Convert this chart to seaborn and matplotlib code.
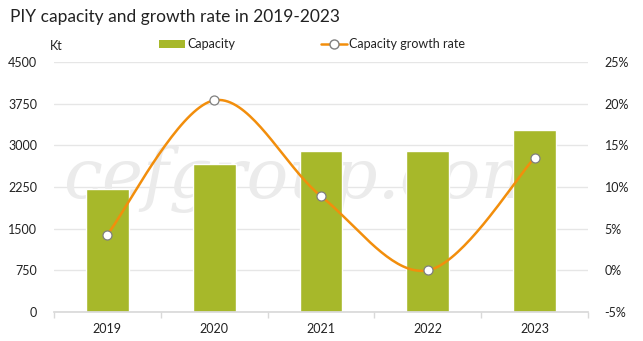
import numpy as np
import pandas as pd
import matplotlib
matplotlib.use("Agg")
import matplotlib.pyplot as plt
import seaborn as sns

years = ["2019", "2020", "2021", "2022", "2023"]
capacity = [2210, 2660, 2900, 2900, 3280]
growth = [4.3, 20.4, 8.9, 0.0, 13.5]
left_ticks = [0, 750, 1500, 2250, 3000, 3750, 4500]
right_ticks = [-5, 0, 5, 10, 15, 20, 25]

sns.set_theme(style="white")
plt.rcParams['font.family'] = ['Lato', 'DejaVu Sans']

BAR = "#A7B82A"
LINE = "#F28E0C"
TXT = "#222222"

fig = plt.figure(figsize=(6.43, 3.41), dpi=100)
ax = fig.add_axes([54/643, 29/341, 534/643, 250/341])

df = pd.DataFrame({"year": years, "capacity": capacity, "growth": growth})
sns.barplot(data=df, x="year", y="capacity", color=BAR, width=0.4, ax=ax,
            saturation=1, zorder=2)
ax.set_ylim(0, 4500)
ax.set_xlim(-0.5, 4.5)
ax.set_yticks(left_ticks)
ax.set_yticklabels([str(t) for t in left_ticks])
ax.yaxis.grid(True, color="#e6e6e6", lw=1, zorder=0)
ax.set_axisbelow(True)
for s in ["top", "left", "right"]:
    ax.spines[s].set_visible(False)
ax.spines["bottom"].set_color("#d9d9d9")
ax.set_xlabel("")
ax.set_ylabel("")
ax.set_xticks(np.arange(-0.5, 5.0, 1.0), minor=True)
ax.tick_params(axis="x", which="minor", length=4, color="#d9d9d9", direction="out", bottom=True)
ax.tick_params(axis="x", which="major", length=0, labelsize=9, labelcolor=TXT, pad=8)
ax.tick_params(axis="y", length=0, labelsize=9, labelcolor=TXT, pad=12)

# watermark
ax.text(1.85, 2400, "cefgroup.com", fontsize=50, family="DejaVu Serif", style="italic",
        color="#ebebeb", ha="center", va="center", zorder=1, clip_on=True)

ax2 = ax.twinx()
ax2.set_ylim(-5, 25)
ax2.set_yticks(right_ticks)
ax2.set_yticklabels([f"{t}%" for t in right_ticks])
ax2.tick_params(axis="y", length=0, labelsize=9, labelcolor=TXT, pad=12)
for s in ["top", "left", "right", "bottom"]:
    ax2.spines[s].set_visible(False)
ax2.grid(False)

# smooth (Catmull-Rom style) curve through the data points
xs = np.arange(len(growth), dtype=float)
ys = np.array(growth, dtype=float)
px, py = [], []
n = len(xs)
for i in range(n - 1):
    p0 = (xs[i-1], ys[i-1]) if i > 0 else (xs[i], ys[i])
    p1 = (xs[i], ys[i]); p2 = (xs[i+1], ys[i+1])
    p3 = (xs[i+2], ys[i+2]) if i + 2 < n else (xs[i+1], ys[i+1])
    t = np.linspace(0, 1, 40)
    c1 = (p1[0] + (p2[0]-p0[0])/6, p1[1] + (p2[1]-p0[1])/6)
    c2 = (p2[0] - (p3[0]-p1[0])/6, p2[1] - (p3[1]-p1[1])/6)
    bx = (1-t)**3*p1[0] + 3*(1-t)**2*t*c1[0] + 3*(1-t)*t**2*c2[0] + t**3*p2[0]
    by = (1-t)**3*p1[1] + 3*(1-t)**2*t*c1[1] + 3*(1-t)*t**2*c2[1] + t**3*p2[1]
    px.extend(bx); py.extend(by)
ax2.plot(px, py, color=LINE, lw=1.8, zorder=3)
sns.scatterplot(x=xs, y=ys, ax=ax2, color="white", edgecolor="#7f7f7f", s=42,
                linewidth=0.9, zorder=4)

# legend
from matplotlib.patches import Patch
from matplotlib.lines import Line2D
handles = [Patch(facecolor=BAR, edgecolor="none", label="Capacity"),
           Line2D([0], [0], color=LINE, lw=1.8, marker="o", markersize=6.5,
                  markerfacecolor="white", markeredgecolor="#7f7f7f",
                  label="Capacity growth rate")]
fig.legend(handles=handles, loc="center", bbox_to_anchor=(312/643, 1 - 44/341),
           ncol=2, frameon=False, fontsize=9, handlelength=2.1, handleheight=0.6,
           columnspacing=6.8, handletextpad=0.2, labelcolor=TXT)

fig.text(10/643, 1 - 17/341, "PIY capacity and growth rate in 2019-2023", fontsize=12.5,
         color=TXT, ha="left", va="center")
fig.text(50/643, 1 - 46/341, "Kt", fontsize=9, color=TXT, ha="left", va="center")

fig.savefig("out.png", dpi=100, facecolor="white")
